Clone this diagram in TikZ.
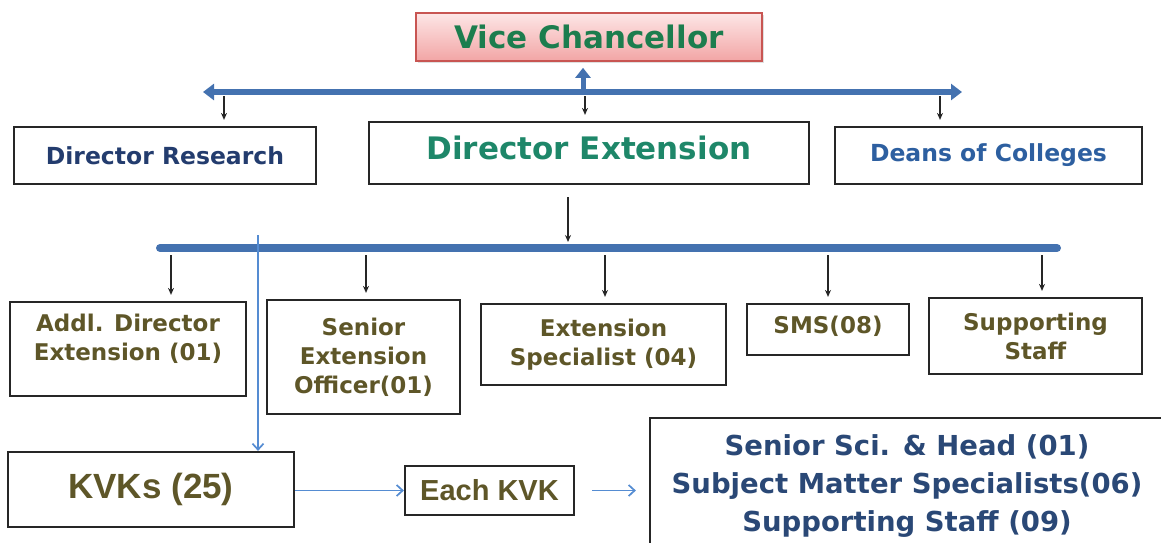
\documentclass[tikz,border=0pt]{standalone}
\usepackage{fontspec}
\setmainfont{DejaVu Sans}
\newfontfamily\arialfont{Liberation Sans}
\usetikzlibrary{arrows.meta,shadows}

\definecolor{barblue}{RGB}{68,114,176}
\definecolor{linkblue}{RGB}{85,140,210}
\definecolor{olivetxt}{RGB}{94,86,40}
\definecolor{navytxt}{RGB}{35,60,110}
\definecolor{deantxt}{RGB}{45,95,160}
\definecolor{exttxt}{RGB}{30,135,105}
\definecolor{vcgreen}{RGB}{28,125,78}
\definecolor{vcred}{RGB}{200,85,82}
\definecolor{vcpinktop}{RGB}{253,230,230}
\definecolor{vcpinkbot}{RGB}{242,165,165}
\definecolor{teamnavy}{RGB}{42,72,118}

\begin{document}
\begin{tikzpicture}[x=1pt,y=-1pt,
  orgbox/.style={draw=black!85,line width=2.2pt,inner sep=2pt,align=center},
  olivebox/.style={orgbox,text=olivetxt,font=\fontsize{23}{29}\selectfont\bfseries},
  dnarrow/.style={-{Stealth[length=7pt,width=6pt]},line width=1.2pt,black!85,shorten >=6pt},
  bluebar/.style={barblue,line width=6pt},
  thinblue/.style={linkblue,line width=1.7pt,-{Straight Barb[length=6pt,width=11pt]}}]
  \useasboundingbox (0,0) rectangle (1161,542);
  \clip (0,0) rectangle (1161,542);

  % top of the chart
  \node[orgbox,draw=vcred,line width=1.6pt,top color=vcpinktop,bottom color=vcpinkbot,
        drop shadow={opacity=0.25,shadow xshift=1.5pt,shadow yshift=-2pt},
        minimum width=346pt,minimum height=48pt,text=vcgreen,
        font=\fontsize{31}{34}\selectfont\bfseries] (vc) at (589,37) {Vice Chancellor};
  \node[orgbox,minimum width=302pt,minimum height=57pt,text=navytxt,
        font=\fontsize{23.5}{26}\selectfont\bfseries] (dr) at (165,155.5) {Director Research};
  \node[orgbox,minimum width=440pt,minimum height=62pt,text=exttxt,text depth=10pt,
        font=\fontsize{31}{34}\selectfont\bfseries] (de) at (589,153) {Director Extension};
  \node[orgbox,minimum width=307pt,minimum height=57pt,text=deantxt,
        font=\fontsize{23.5}{26}\selectfont\bfseries] (dc) at (988.5,155.5) {Deans of Colleges};

  \coordinate (barL) at (203,92);
  \coordinate (barR) at (962,92);
  \coordinate (barM) at (583,92);
  \draw[bluebar,{Triangle[length=11pt,width=16pt]}-{Triangle[length=11pt,width=16pt]}] (barL) -- (barR);
  \draw[bluebar,line width=5pt,-{Triangle[length=10pt,width=15pt]},shorten >=6pt] (barM) -- (barM |- vc.south);
  \foreach \x/\n in {224/dr,585/de,940/dc}{
    \coordinate (tap-\n) at (\x,96);
    \draw[dnarrow] (tap-\n) -- (tap-\n |- \n.north);
  }

  % extension wing
  \node[olivebox,minimum width=236pt,minimum height=94pt,text depth=23pt] (ade) at (128,349) {Addl. Director\\Extension (01)};
  \node[olivebox,minimum width=193pt,minimum height=114pt] (seo) at (363.5,357) {Senior\\Extension\\Officer(01)};
  \node[olivebox,minimum width=245pt,minimum height=81pt] (es) at (603.5,344.5) {Extension\\Specialist (04)};
  \node[olivebox,minimum width=162pt,minimum height=51pt,text depth=9pt] (sms) at (828,329.5) {SMS(08)};
  \node[olivebox,minimum width=213pt,minimum height=76pt] (ss) at (1035.5,336) {Supporting\\Staff};

  \coordinate (bar2L) at (160,248);
  \coordinate (bar2R) at (1057,248);
  \coordinate (deTap) at (568,243);
  \draw[bluebar,line width=8pt,line cap=round] (bar2L) -- (bar2R);
  \draw[dnarrow,shorten <=12pt,shorten >=1pt] (deTap |- de.south) -- (deTap);
  \foreach \x/\n in {171/ade,366/seo,605/es,828/sms,1042/ss}{
    \coordinate (tap-\n) at (\x,255);
    \draw[dnarrow] (tap-\n) -- (tap-\n |- \n.north);
  }

  % KVKs
  \node[orgbox,minimum width=286pt,minimum height=75pt,text=olivetxt,
        font=\fontsize{35}{40}\arialfont\bfseries] (kvk) at (151,489.5) {KVKs (25)};
  \node[orgbox,minimum width=169pt,minimum height=49pt,text=olivetxt,
        font=\fontsize{29}{34}\arialfont\bfseries] (each) at (489.5,490.5) {Each KVK};
  \node[orgbox,minimum width=514pt,minimum height=136pt,text=teamnavy,
        font=\fontsize{27.5}{38}\selectfont\bfseries] (team) at (907,486)
        {Senior Sci. \& Head (01)\\Subject Matter Specialists(06)\\Supporting Staff (09)};

  \coordinate (kvkTap) at (258,235);
  \draw[thinblue] (kvkTap) -- (kvkTap |- kvk.north);
  \draw[thinblue] (kvk.east |- each.west) -- (each.west);
  \draw[thinblue,shorten <=17pt,shorten >=13pt] (each.east) -- (each.east -| team.west);
\end{tikzpicture}
\end{document}
